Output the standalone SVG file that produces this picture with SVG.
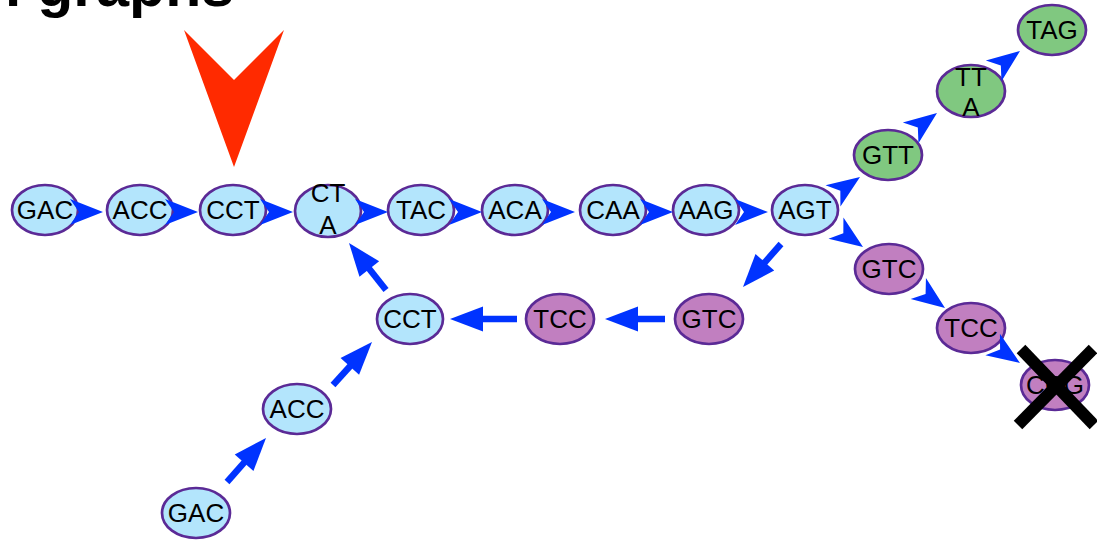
<svg xmlns="http://www.w3.org/2000/svg" xmlns:xlink="http://www.w3.org/1999/xlink" width="1097" height="541" viewBox="0 0 1097 541">
<style>
.n ellipse{stroke:#5b2a96;stroke-width:2.7}
.b ellipse{fill:#b3e5fc}
.p ellipse{fill:#c17fc0}
.g ellipse{fill:#80c880}
.n text{font-family:"Liberation Sans",Arial,sans-serif;font-size:26px;fill:#000;text-anchor:middle}
.ln{stroke:#0033ff;stroke-width:6.5;fill:none}
.ah{fill:#0033ff}
.title{font-family:"Liberation Sans",Arial,sans-serif;font-weight:bold;font-size:59px;fill:#000}
</style>
<defs>
<polygon id="st" points="0,0 -33,-13 -24,0 -33,13"/>
<polygon id="tr" points="0,0 -33,-12.5 -33,12.5"/>
</defs>
<rect width="1097" height="541" fill="#fff"/>
<text class="title" x="234" y="6" text-anchor="end">de Bruijn graphs</text>
<polygon id="pointer" points="184,30 234,80 284,30 234,167" fill="#ff2a00"/>
<g id="n-gac1" class="n b"><ellipse cx="45" cy="210" rx="33" ry="25"/><text x="45" y="219">GAC</text></g>
<g id="n-acc1" class="n b"><ellipse cx="140" cy="210" rx="33" ry="25"/><text x="140" y="219">ACC</text></g>
<g id="n-cct1" class="n b"><ellipse cx="233" cy="210" rx="33" ry="25"/><text x="233" y="219">CCT</text></g>
<g id="n-cta" class="n b"><ellipse cx="328" cy="211" rx="33" ry="26"/><text x="328" y="202">CT</text><text x="328" y="234">A</text></g>
<g id="n-tac" class="n b"><ellipse cx="421" cy="210" rx="33" ry="25"/><text x="421" y="219">TAC</text></g>
<g id="n-aca" class="n b"><ellipse cx="515" cy="210" rx="33" ry="25"/><text x="515" y="219">ACA</text></g>
<g id="n-caa" class="n b"><ellipse cx="613" cy="210" rx="33" ry="25"/><text x="613" y="219">CAA</text></g>
<g id="n-aag" class="n b"><ellipse cx="706" cy="210" rx="33" ry="25"/><text x="706" y="219">AAG</text></g>
<g id="n-agt" class="n b"><ellipse cx="805" cy="210" rx="33" ry="25"/><text x="805" y="219">AGT</text></g>
<g id="n-gtt" class="n g"><ellipse cx="888" cy="155" rx="34" ry="25"/><text x="888" y="164">GTT</text></g>
<g id="n-tta" class="n g"><ellipse cx="971" cy="91" rx="34" ry="26"/><text x="971" y="86">TT</text><text x="971" y="116">A</text></g>
<g id="n-tag" class="n g"><ellipse cx="1052" cy="30" rx="34" ry="25"/><text x="1052" y="39">TAG</text></g>
<g id="n-gtc1" class="n p"><ellipse cx="889" cy="269" rx="34" ry="25"/><text x="889" y="278">GTC</text></g>
<g id="n-tcc1" class="n p"><ellipse cx="971" cy="328" rx="34" ry="25"/><text x="971" y="337">TCC</text></g>
<g id="n-ccg" class="n p"><ellipse cx="1055" cy="385" rx="34" ry="25"/><text x="1055" y="394">CCG</text></g>
<g id="n-gtc2" class="n p"><ellipse cx="709" cy="319" rx="34" ry="25"/><text x="709" y="328">GTC</text></g>
<g id="n-tcc2" class="n p"><ellipse cx="560" cy="319" rx="34" ry="25"/><text x="560" y="328">TCC</text></g>
<g id="n-cct2" class="n b"><ellipse cx="410" cy="319" rx="33" ry="25"/><text x="410" y="328">CCT</text></g>
<g id="n-acc2" class="n b"><ellipse cx="297" cy="409" rx="34" ry="25"/><text x="297" y="418">ACC</text></g>
<g id="n-gac2" class="n b"><ellipse cx="196" cy="513" rx="34" ry="25"/><text x="196" y="522">GAC</text></g>
<g id="connectors">
<g class="ah">
<use xlink:href="#st" transform="translate(103,212)"/>
<use xlink:href="#st" transform="translate(198,212)"/>
<use xlink:href="#st" transform="translate(293,212)"/>
<use xlink:href="#st" transform="translate(388,212)"/>
<use xlink:href="#st" transform="translate(482,212)"/>
<use xlink:href="#st" transform="translate(575,212)"/>
<use xlink:href="#st" transform="translate(673,212)"/>
<use xlink:href="#st" transform="translate(768,212)"/>
<use xlink:href="#st" transform="translate(860,177) rotate(-35)"/>
<use xlink:href="#st" transform="translate(937,113) rotate(-37)"/>
<use xlink:href="#st" transform="translate(1020,51) rotate(-37)"/>
<use xlink:href="#st" transform="translate(863,247) rotate(35)"/>
<use xlink:href="#st" transform="translate(945,308) rotate(36)"/>
<use xlink:href="#st" transform="translate(1020,363) rotate(34)"/>
</g>
<line class="ln" x1="227" y1="482" x2="247.4" y2="458.9"/>
<line class="ln" x1="333" y1="385" x2="353.2" y2="362.7"/>
<line class="ln" x1="386" y1="290" x2="366.2" y2="265.1"/>
<line class="ln" x1="517" y1="319" x2="478" y2="319"/>
<line class="ln" x1="665" y1="319" x2="633" y2="319"/>
<line class="ln" x1="781" y1="244" x2="761.6" y2="266"/>
<g class="ah">
<use xlink:href="#tr" transform="translate(266,438) rotate(-48.4)"/>
<use xlink:href="#tr" transform="translate(372,342) rotate(-47.8)"/>
<use xlink:href="#tr" transform="translate(349,243) rotate(-128)"/>
<use xlink:href="#tr" transform="translate(450,319) rotate(180)"/>
<use xlink:href="#tr" transform="translate(605,319) rotate(180)"/>
<use xlink:href="#tr" transform="translate(743,287) rotate(131.5)"/>
</g>
</g>
<g id="cross" stroke="#000" stroke-width="12">
<line x1="1021" y1="349" x2="1094" y2="425"/>
<line x1="1093" y1="349" x2="1018" y2="425"/>
</g>
</svg>
